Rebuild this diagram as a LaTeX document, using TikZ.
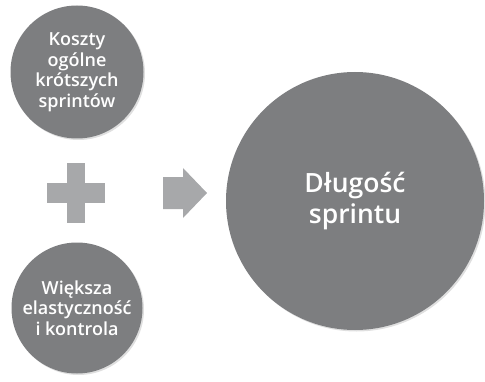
\documentclass[tikz,border=0pt]{standalone}
\usepackage{fontspec}
\setmainfont{Open Sans}[BoldFont={Open Sans Semibold}]
\usetikzlibrary{shadows}
\tikzset{
  bubble/.style={circle, fill=circgray, text=white, align=center, inner sep=0pt,
    drop shadow={opacity=0.25, shadow xshift=1.5pt, shadow yshift=-1.5pt}},
  small/.style={font=\fontsize{18}{20.5}\selectfont\bfseries},
  big/.style={font=\fontsize{26.5}{31}\selectfont\bfseries},
  sym/.style={fill=symgray, draw=none}
}
\definecolor{circgray}{HTML}{7D7E80}
\definecolor{symgray}{HTML}{A7A8AA}
\begin{document}
\begin{tikzpicture}[x=1pt,y=1pt]
\useasboundingbox (0,0) rectangle (485,381);
\node[bubble, small, minimum size=133pt] (koszty) at (77,309) {Koszty\\ogólne\\krótszych\\sprintów};
\node[bubble, small, minimum size=131pt] (wieksza) at (77,73) {Większa\\elastyczność\\i kontrola};
\node[bubble, big, minimum size=258pt] (dlugosc) at (355,180) {Długość\\sprintu};
% plus sign
\coordinate (plusc) at (76,188);
\fill[sym] ([xshift=-9pt,yshift=-30pt]plusc) rectangle ([xshift=9pt,yshift=30pt]plusc);
\fill[sym] ([xshift=-29pt,yshift=-10pt]plusc) rectangle ([xshift=29pt,yshift=10pt]plusc);
% arrow
\coordinate (arrc) at (163,188);
\fill[sym] ([yshift=16pt]arrc) -- ++(20,0) -- ++(0,9) -- (207,188) -- (183,163) -- ++(0,9) -- ++(-20,0) -- cycle;
\end{tikzpicture}
\end{document}
